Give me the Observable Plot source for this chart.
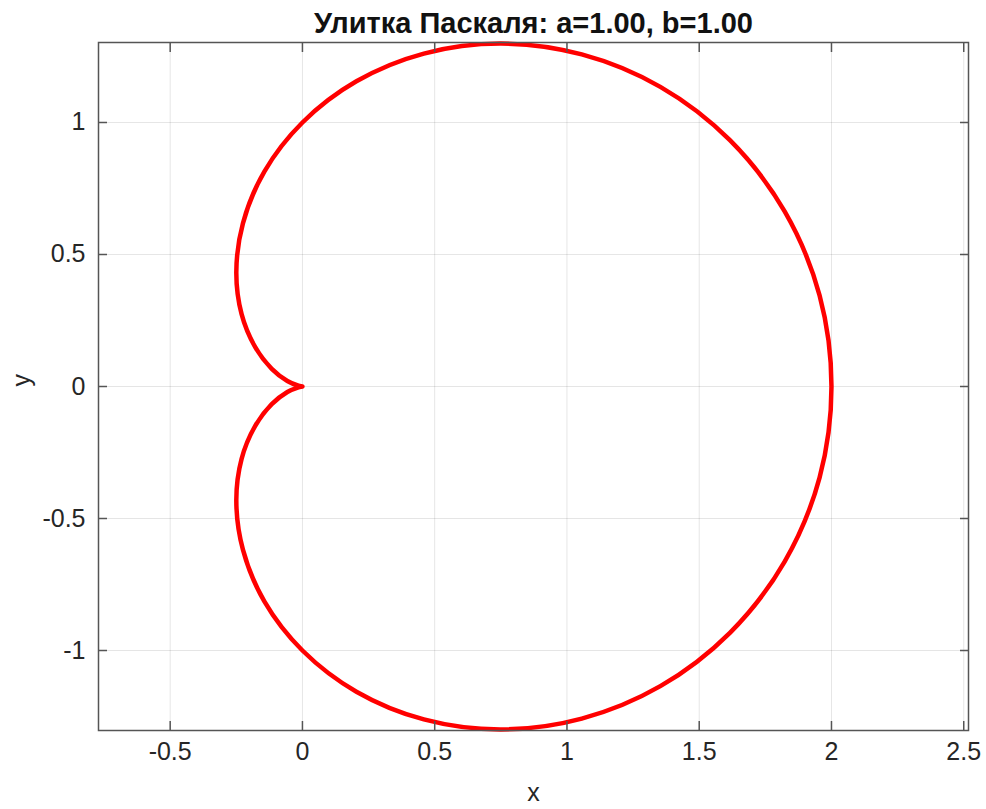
<!DOCTYPE html>
<html>
<head>
<meta charset="utf-8">
<script src="https://cdn.jsdelivr.net/npm/d3@7"></script>
<script src="https://cdn.jsdelivr.net/npm/@observablehq/plot@0.6"></script>
<style>
  html, body { margin: 0; padding: 0; background: #fff; }
  #chart { width: 986px; height: 809px; }
</style>
</head>
<body>
<div id="chart"></div>
<script>
// Points (x, y), going counter-clockwise from (2, 0)
const curveX = [2, 1.955, 1.823, 1.616, 1.353, 1.056, 0.75, 0.459, 0.204, 0, -0.144, -0.225, -0.25, -0.230, -0.179, -0.116, -0.057, -0.015,
                0, -0.015, -0.057, -0.116, -0.179, -0.230, -0.25, -0.225, -0.144, 0, 0.204, 0.459, 0.75, 1.056, 1.353, 1.616, 1.823, 1.955];
const curveY = [0, 0.345, 0.663, 0.933, 1.135, 1.258, 1.299, 1.261, 1.156, 1, 0.814, 0.618, 0.433, 0.274, 0.150, 0.067, 0.021, 0.003,
                0, -0.003, -0.021, -0.067, -0.150, -0.274, -0.433, -0.618, -0.814, -1, -1.156, -1.261, -1.299, -1.258, -1.135, -0.933, -0.663, -0.345];
const xTicks = [-0.5, 0, 0.5, 1, 1.5, 2, 2.5];
const yTicks = [-1, -0.5, 0, 0.5, 1];
const titleText = "Улитка Паскаля: a=1.00, b=1.00";
const xLabel = "x";
const yLabel = "y";

const points = curveX.map((x, i) => ({x, y: curveY[i]}));
const fmt = d => String(d);
const axisColor = "#555";
const textColor = "#262626";

const chart = Plot.plot({
  width: 986,
  height: 809,
  marginLeft: 98,
  marginRight: 18,
  marginTop: 42,
  marginBottom: 79,
  style: {fontFamily: "'Liberation Sans', Arial, sans-serif", fontSize: "25px", color: textColor, background: "#fff"},
  x: {domain: [-0.771, 2.518]},
  y: {domain: [-1.303, 1.303]},
  marks: [
    Plot.gridX(xTicks, {stroke: "#000", strokeOpacity: 0.1, strokeWidth: 1}),
    Plot.gridY(yTicks, {stroke: "#000", strokeOpacity: 0.1, strokeWidth: 1}),
    Plot.line(points, {x: "x", y: "y", stroke: "#ff0000", strokeWidth: 4.5, curve: "catmull-rom-closed"}),
    Plot.frame({stroke: axisColor, strokeWidth: 1.5}),
    // inward ticks on all four sides
    Plot.axisX({ticks: xTicks, anchor: "bottom", tickSize: -9, tickFormat: () => "", label: null, stroke: axisColor, strokeWidth: 1.5}),
    Plot.axisX({ticks: xTicks, anchor: "top", tickSize: -9, tickFormat: () => "", label: null, stroke: axisColor, strokeWidth: 1.5}),
    Plot.axisY({ticks: yTicks, anchor: "left", tickSize: -9, tickFormat: () => "", label: null, stroke: axisColor, strokeWidth: 1.5}),
    Plot.axisY({ticks: yTicks, anchor: "right", tickSize: -9, tickFormat: () => "", label: null, stroke: axisColor, strokeWidth: 1.5}),
    // tick labels
    Plot.axisX({ticks: xTicks, anchor: "bottom", tickSize: 0, tickPadding: 12, tickFormat: fmt, label: null, fill: textColor, fontSize: 25}),
    Plot.axisY({ticks: yTicks, anchor: "left", tickSize: 0, tickPadding: 13, tickFormat: fmt, label: null, fill: textColor, fontSize: 25}),
    // axis titles and chart title
    Plot.text([xLabel], {frameAnchor: "bottom", lineAnchor: "middle", dy: 62, text: d => d, fill: textColor, fontSize: 25}),
    Plot.text([yLabel], {frameAnchor: "left", lineAnchor: "middle", dx: -77, rotate: -90, text: d => d, fill: textColor, fontSize: 25}),
    Plot.text([titleText], {frameAnchor: "top", lineAnchor: "middle", dy: -19, text: d => d, fill: "#111", fontSize: 29, fontWeight: "bold"})
  ]
});
document.getElementById("chart").appendChild(chart);
</script>
</body>
</html>
